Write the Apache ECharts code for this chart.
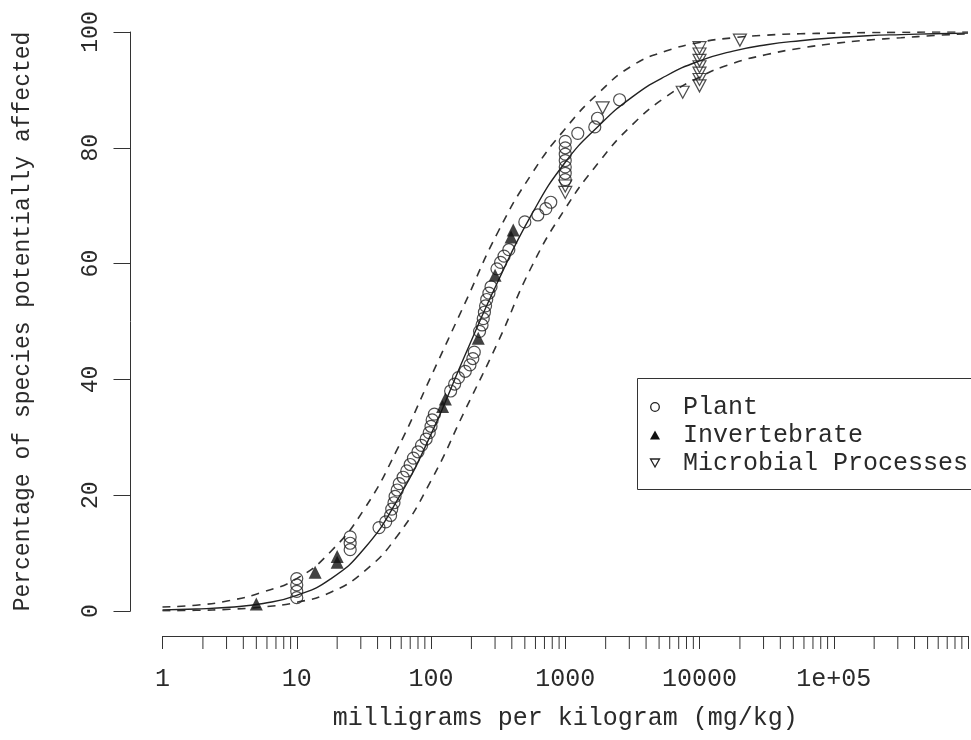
<!DOCTYPE html>
<html><head><meta charset="utf-8">
<script src="https://cdn.jsdelivr.net/npm/echarts@6/dist/echarts.min.js"></script>
<style>html,body{margin:0;padding:0;background:#fff}#c{width:971px;height:740px}</style>
</head><body><div id="c"></div>
<script>
const FONT = '"Liberation Mono", "Courier New", monospace';
const TXT = '#2a2a2a';

// Axis tick labels
const xTickLabels = ['1', '10', '100', '1000', '10000', '1e+05', ''];
const minorMultipliers = [2, 3, 4, 5, 6, 7, 8, 9];
const decadeStarts = [1, 10, 100, 1000, 10000, 100000];

// Fitted distribution curve and its bounds (mg/kg, % affected)
const curveX = [1, 1.778, 3.162, 5.623, 10, 17.78, 31.62, 56.23, 100, 177.8, 316.2, 562.3, 1000,
  1778, 3162, 5623, 10000, 17783, 31623, 56234, 100000, 177828, 316228, 562341, 1000000];
const fitY   = [0.2, 0.35, 0.65, 1.3, 2.7, 5.5, 10.7, 19.2, 30.5, 44, 57, 68.5, 77.5,
  83.8, 88.8, 92.4, 95.0, 96.7, 97.8, 98.5, 99.0, 99.35, 99.55, 99.7, 99.8];
const upperY = [0.7, 1.0, 1.8, 3.3, 5.6, 10.2, 17.5, 28, 40.5, 53, 65.5, 75.5, 83.3,
  89.5, 94.2, 96.7, 98.2, 99.0, 99.45, 99.7, 99.8, 99.9, 99.95, 100, 100];
const lowerY = [0.05, 0.12, 0.3, 0.7, 1.5, 3.2, 6.8, 13, 22.5, 34.5, 46.5, 59.5, 69.5,
  77.5, 84, 88.8, 92.2, 94.6, 96.1, 97.2, 98.0, 98.6, 99.0, 99.4, 99.7];

// Plant
const plantX = [10, 10, 10, 10, 25, 25, 25, 41, 46, 50, 51, 53, 54, 56, 58, 62, 66, 70, 74, 80, 85, 92, 97, 100, 102, 106,
  140, 150, 160, 180, 195, 205, 210, 230, 240, 245, 250, 255, 260, 270, 280, 310, 330, 350, 380,
  500, 625, 717, 780, 1000, 1000, 1000, 1000, 1000, 1000, 1000, 1240, 1660, 1740, 2540];
const plantY = [2.3, 3.4, 4.5, 5.6, 10.6, 11.7, 12.8, 14.4, 15.4, 16.5, 17.6, 18.7, 19.8, 20.9, 22.0, 23.1, 24.2, 25.3, 26.4, 27.5, 28.6, 29.7, 30.8, 31.9, 33.0, 34.0,
  38.0, 39.2, 40.3, 41.4, 42.5, 43.6, 44.7, 48.3, 49.4, 50.5, 51.6, 52.7, 53.8, 54.9, 56.0, 59.1, 60.2, 61.3, 62.4,
  67.2, 68.4, 69.5, 70.6, 74.5, 75.6, 76.7, 77.8, 78.9, 80.0, 81.1, 82.5, 83.6, 85.1, 88.3];
// Invertebrate
const invertX = [5, 13.7, 20, 20, 122, 128, 225, 300, 395, 410];
const invertY = [1.2, 6.7, 8.4, 9.4, 35.3, 36.6, 47.1, 58.0, 64.6, 65.8];
// Microbial Processes
const microX = [1000, 1000, 1900, 7500, 10000, 10000, 10000, 10000, 10000, 10000, 10000, 20000];
const microY = [72.3, 73.4, 86.9, 89.6, 90.7, 91.8, 92.9, 94.0, 95.1, 96.2, 97.3, 98.6];

const zip = (a, b) => a.map((v, i) => [v, b[i]]);
const minorTicks = [];
decadeStarts.forEach(d => minorMultipliers.forEach(m => minorTicks.push([d * m, 0])));

const INV_TRI = 'path://M0,0 L10,0 L5,9 Z';

const chart = echarts.init(document.getElementById('c'), null, {renderer: 'canvas'});
const lineBase = {type: 'line', showSymbol: false, symbol: 'none', smooth: 0.5, silent: true, z: 2};

chart.setOption({
  animation: false,
  backgroundColor: '#fff',
  grid: {left: 162.5, top: 32, width: 810, height: 579, containLabel: false},
  xAxis: {
    type: 'log', logBase: 10, min: 1, max: 1000000, splitNumber: 6,
    offset: 25,
    axisLine: {onZero: false, lineStyle: {color: '#333', width: 1}},
    axisTick: {length: 13, lineStyle: {color: '#333', width: 1}},
    splitLine: {show: false},
    axisLabel: {
      margin: 31, color: TXT, fontFamily: FONT, fontSize: 25,
      formatter: v => xTickLabels[Math.round(Math.log10(v))] || ''
    },
    name: 'milligrams per kilogram (mg/kg)', nameLocation: 'middle', nameGap: 70,
    nameTextStyle: {color: TXT, fontFamily: FONT, fontSize: 25}
  },
  yAxis: {
    type: 'value', min: 0, max: 100, interval: 20,
    offset: 32,
    axisLine: {show: true, onZero: false, lineStyle: {color: '#333', width: 1}},
    axisTick: {show: true, length: 17, lineStyle: {color: '#333', width: 1}},
    splitLine: {show: false},
    axisLabel: {rotate: 90, margin: 28, color: TXT, fontFamily: FONT, fontSize: 23},
    name: 'Percentage of species potentially affected', nameLocation: 'middle', nameGap: 96,
    nameTextStyle: {color: TXT, fontFamily: FONT, fontSize: 23}
  },
  series: [
    Object.assign({}, lineBase, {name: 'fit', data: zip(curveX, fitY), lineStyle: {color: '#222', width: 1.4}}),
    Object.assign({}, lineBase, {name: 'upper', data: zip(curveX, upperY), lineStyle: {color: '#333', width: 1.6, type: [8, 7]}}),
    Object.assign({}, lineBase, {name: 'lower', data: zip(curveX, lowerY), lineStyle: {color: '#333', width: 1.6, type: [8, 7]}}),
    {type: 'scatter', name: 'Plant', data: zip(plantX, plantY), symbol: 'circle', symbolSize: 12, z: 3,
      itemStyle: {color: 'rgba(0,0,0,0)', borderColor: '#222', borderWidth: 1.2}},
    {type: 'scatter', name: 'Invertebrate', data: zip(invertX, invertY), symbol: 'triangle', symbolSize: 13, z: 3,
      itemStyle: {color: '#111'}},
    {type: 'scatter', name: 'Microbial Processes', data: zip(microX, microY), symbol: INV_TRI, symbolSize: [13, 12], z: 3,
      itemStyle: {color: 'rgba(0,0,0,0)', borderColor: '#222', borderWidth: 1.2}},
    {type: 'custom', name: 'minorTicks', coordinateSystem: 'cartesian2d', silent: true, clip: false, z: 1,
      data: minorTicks,
      renderItem: (params, api) => {
        const p = api.coord([api.value(0), 0]);
        return {type: 'line', shape: {x1: p[0], y1: p[1] + 25, x2: p[0], y2: p[1] + 38},
          style: {stroke: '#333', lineWidth: 1}};
      }}
  ],
  graphic: [
    {type: 'rect', z: 100, shape: {x: 637.5, y: 378.5, width: 400, height: 111}, style: {fill: '#fff', stroke: '#333', lineWidth: 1}},
    {type: 'circle', z: 101, shape: {cx: 655, cy: 407, r: 4.3}, style: {fill: 'none', stroke: '#222', lineWidth: 1.3}},
    {type: 'polygon', z: 101, shape: {points: [[650, 439.5], [660, 439.5], [655, 430.5]]}, style: {fill: '#111'}},
    {type: 'polygon', z: 101, shape: {points: [[650.5, 459], [659.5, 459], [655, 467]]}, style: {fill: 'none', stroke: '#222', lineWidth: 1.3}},
    {type: 'text', z: 101, x: 683, y: 407, style: {text: 'Plant', fontFamily: FONT, fontSize: 25, fill: TXT, verticalAlign: 'middle'}},
    {type: 'text', z: 101, x: 683, y: 435, style: {text: 'Invertebrate', fontFamily: FONT, fontSize: 25, fill: TXT, verticalAlign: 'middle'}},
    {type: 'text', z: 101, x: 683, y: 463, style: {text: 'Microbial Processes', fontFamily: FONT, fontSize: 25, fill: TXT, verticalAlign: 'middle'}}
  ]
});
</script>
</body></html>
